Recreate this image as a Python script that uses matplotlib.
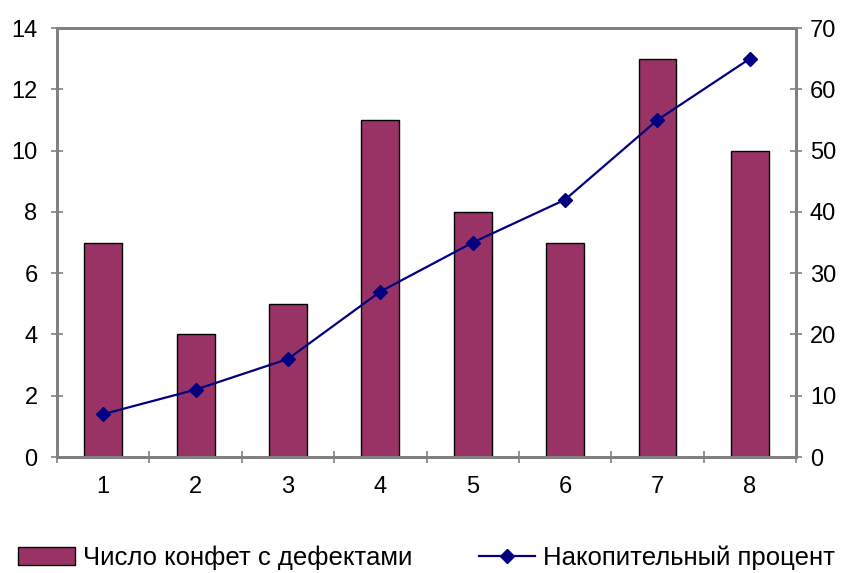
import matplotlib
matplotlib.use("Agg")
import matplotlib.pyplot as plt
from matplotlib.lines import Line2D
from matplotlib.patches import Patch
import numpy as np

plt.rcParams['font.family'] = ['Liberation Sans', 'DejaVu Sans']

categories = ['1', '2', '3', '4', '5', '6', '7', '8']
defects = [7, 4, 5, 11, 8, 7, 13, 10]
cumulative = [7, 11, 16, 27, 35, 42, 55, 65]
left_ticks = [0, 2, 4, 6, 8, 10, 12, 14]
right_ticks = [0, 10, 20, 30, 40, 50, 60, 70]

bar_label = 'Число конфет с дефектами'
line_label = 'Накопительный процент'

fig = plt.figure(figsize=(8.45, 5.73), dpi=100)
ax = fig.add_axes([0.0675, 0.2024, 0.8745, 0.7486])
ax2 = ax.twinx()

x = np.arange(1, len(categories) + 1)
ax.bar(x, defects, width=0.41, color='#993366', edgecolor='black', linewidth=1, zorder=2)
ax2.plot(x, cumulative, color='#000080', marker='D', markersize=7, linewidth=1.6, zorder=3)

ax.set_xlim(0.5, len(categories) + 0.5)
ax.set_ylim(0, 14)
ax2.set_ylim(0, 70)
ax.set_yticks(left_ticks)
ax2.set_yticks(right_ticks)

ax.set_xticks(np.arange(0.5, len(categories) + 1, 1))
ax.set_xticklabels([])
ax.set_xticks(x, minor=True)
ax.set_xticklabels(categories, minor=True)
ax.tick_params(axis='x', which='minor', length=0, pad=14, labelsize=17)
ax.tick_params(axis='x', which='major', direction='inout', length=8, color='#808080', width=1.2)
ax.tick_params(axis='y', direction='inout', length=8, color='#808080', width=1.2, labelsize=17, pad=10)
ax2.tick_params(axis='y', direction='inout', length=8, color='#808080', width=1.2, labelsize=17, pad=6)

for a in (ax, ax2):
    for s in a.spines.values():
        s.set_color('#808080')
        s.set_linewidth(2)

handles = [Patch(facecolor='#993366', edgecolor='black', label=bar_label),
           Line2D([0], [0], color='#000080', marker='D', markersize=7, linewidth=1.6, label=line_label)]
fig.legend(handles=handles, loc='lower center', bbox_to_anchor=(0.505, -0.035), ncol=2,
           frameon=False, fontsize=18.5, handlelength=2.2, handletextpad=0.3, columnspacing=2.6)

fig.savefig('out.png', dpi=100)
